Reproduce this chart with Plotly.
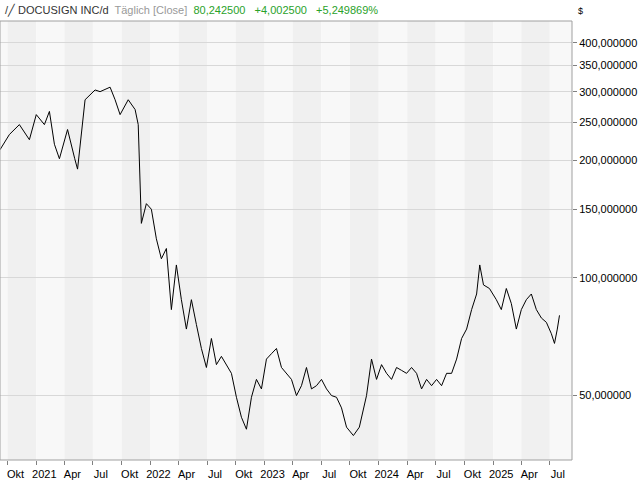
import plotly.graph_objects as go
import pandas as pd

dates = ["2020-09-07", "2020-10-07", "2020-11-08", "2020-12-10", "2021-01-01", "2021-01-27",
         "2021-02-12", "2021-02-28", "2021-03-16", "2021-04-11", "2021-05-04", "2021-05-13",
         "2021-06-06", "2021-07-08", "2021-07-24", "2021-08-25", "2021-09-10", "2021-09-26",
         "2021-10-22", "2021-11-13", "2021-11-23", "2021-12-03", "2021-12-19", "2022-01-04",
         "2022-01-20", "2022-02-05", "2022-02-21", "2022-03-09", "2022-03-25", "2022-04-10",
         "2022-04-26", "2022-05-12", "2022-05-28", "2022-06-13", "2022-06-29", "2022-07-15",
         "2022-07-31", "2022-08-16", "2022-09-17", "2022-10-03", "2022-10-19", "2022-11-04",
         "2022-11-20", "2022-12-06", "2022-12-22", "2023-01-07", "2023-01-23", "2023-02-08",
         "2023-02-24", "2023-03-28", "2023-04-13", "2023-04-29", "2023-05-15", "2023-05-31",
         "2023-06-16", "2023-07-02", "2023-07-18", "2023-08-03", "2023-08-19", "2023-09-04",
         "2023-09-20", "2023-10-12", "2023-10-31", "2023-11-13", "2023-11-23", "2023-12-09",
         "2023-12-25", "2024-01-10", "2024-01-26", "2024-02-11", "2024-02-27", "2024-03-14",
         "2024-03-30", "2024-04-15", "2024-05-01", "2024-05-17", "2024-06-02", "2024-06-18",
         "2024-07-04", "2024-07-20", "2024-08-05", "2024-08-21", "2024-09-06", "2024-09-22",
         "2024-10-08", "2024-10-24", "2024-11-09", "2024-11-19", "2024-12-01", "2024-12-20",
         "2025-01-11", "2025-01-27", "2025-02-12", "2025-02-28", "2025-03-16", "2025-04-01",
         "2025-04-17", "2025-05-03", "2025-05-19", "2025-06-04", "2025-06-20", "2025-07-06",
         "2025-07-16", "2025-07-25", "2025-08-01"]
close = [213, 233, 247, 226, 262, 247, 267, 220, 202, 240, 202, 190,
         286, 303, 300, 308, 286, 262, 286, 270, 247, 138, 155, 150,
         126, 112, 119, 83, 108, 88, 74, 88, 76, 66, 59, 70,
         60, 63, 57, 49.5, 44, 41, 49.5, 55, 52, 62, 64, 66,
         59, 55, 50, 53, 59, 52, 53, 55, 52, 50, 49.5, 46.5,
         41.5, 39.5, 41.5, 46.5, 50, 62, 55, 60, 57, 55, 59, 58,
         57, 59, 57, 52, 55, 53, 55, 53, 57, 57, 62, 70,
         74, 83, 91, 108, 96, 94, 88, 83, 94, 86, 74, 83,
         88, 91, 83, 79, 77, 72, 68, 74, 80.2425]

y_ticks = [50, 100, 150, 200, 250, 300, 350, 400]
y_labels = [f"{v},000000" for v in y_ticks]
x_ticks = ["2020-10-01", "2021-01-01", "2021-04-01", "2021-07-01", "2021-10-01",
           "2022-01-01", "2022-04-01", "2022-07-01", "2022-10-01", "2023-01-01",
           "2023-04-01", "2023-07-01", "2023-10-01", "2024-01-01", "2024-04-01",
           "2024-07-01", "2024-10-01", "2025-01-01", "2025-04-01", "2025-07-01"]
x_labels = ["Okt", "2021", "Apr", "Jul", "Okt", "2022", "Apr", "Jul", "Okt", "2023",
            "Apr", "Jul", "Okt", "2024", "Apr", "Jul", "Okt", "2025", "Apr", "Jul"]

font = "Liberation Sans"
fig = go.Figure(go.Scatter(x=pd.to_datetime(dates), y=close, mode="lines",
                           line=dict(color="black", width=1), hoverinfo="skip"))

# alternating quarter bands
bounds = x_ticks + ["2025-10-01"]
shapes = [dict(type="rect", xref="x", yref="paper", x0="2020-08-01", x1=bounds[0],
               y0=0, y1=1, fillcolor="#f8f8f8", line_width=0, layer="below")]
for i in range(len(bounds) - 1):
    shapes.append(dict(type="rect", xref="x", yref="paper", x0=bounds[i], x1=bounds[i + 1],
                       y0=0, y1=1, fillcolor="#f0f0f0" if i % 2 == 0 else "#f8f8f8",
                       line_width=0, layer="below"))
shapes.append(dict(type="rect", xref="paper", yref="paper", x0=0, x1=1, y0=0, y1=1,
                   line=dict(color="#a0a0a0", width=1)))

fig.update_layout(
    width=640, height=480, margin=dict(l=0, r=68, t=21, b=18),
    paper_bgcolor="white", plot_bgcolor="white", showlegend=False,
    font=dict(family=font, size=11, color="black"),
    shapes=shapes,
    annotations=[
        dict(xref="paper", yref="paper", x=0.005, y=1, yshift=2, yanchor="bottom", xanchor="left",
             showarrow=False, font=dict(size=11, family=font),
             text="<span style='color:#333'>/\u2571 DOCUSIGN INC/d</span>  "
                  "<span style='color:#999'>Täglich [Close]</span>  "
                  "<span style='color:#2aa22a'>80,242500   +4,002500   +5,249869%</span>"),
        dict(xref="paper", yref="paper", x=1, xshift=4, y=1, yshift=10, xanchor="left",
             yanchor="middle", showarrow=False, text="$", font=dict(size=9, family=font)),
    ],
)
fig.update_xaxes(range=["2020-09-07", "2025-09-10"], tickvals=x_ticks, ticktext=x_labels,
                 ticks="outside", ticklen=4, tickcolor="#808080", showgrid=False,
                 tickfont=dict(size=11), ticklabelshift=8, ticklabelstandoff=0, zeroline=False)
fig.update_yaxes(type="log", side="right", range=[1.534, 2.658], tickvals=y_ticks,
                 ticktext=y_labels, ticks="outside", ticklen=4, tickcolor="#808080",
                 showgrid=True, gridcolor="#d8d8d8", gridwidth=1, tickfont=dict(size=11))

fig.write_html("out.html", config={"displayModeBar": False},
               post_script="document.body.style.margin='0';")
